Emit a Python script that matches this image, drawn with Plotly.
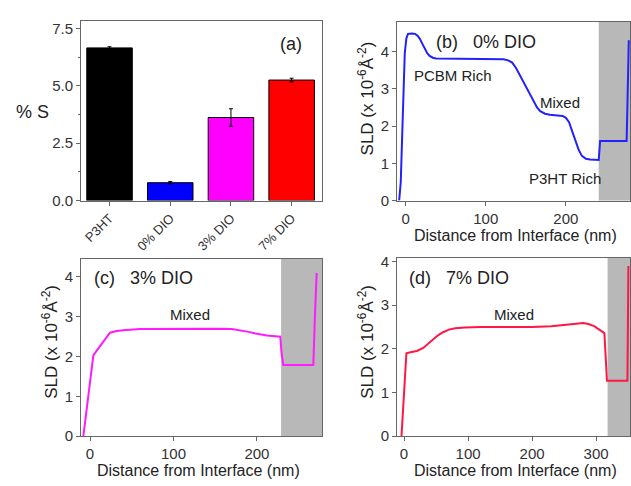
import plotly.graph_objects as go

W, H = 631, 486

# ---- data ----
categories = ["P3HT", "0% DIO", "3% DIO", "7% DIO"]
percent_s = [6.65, 0.78, 3.62, 5.25]
percent_s_err = [0.05, 0.05, 0.38, 0.08]
bar_colors = ["#000000", "#0000ff", "#ff00ff", "#ff0000"]

x_0dio = [-8, -6, -4, -2, -1, 1, 3, 8, 12, 15, 18, 21, 24, 27, 30, 34, 38, 60, 100, 122, 128,
          133, 138, 144, 150, 155, 160, 164, 168, 174, 180, 190, 196, 200, 204, 208, 212, 216,
          220, 225, 230, 236, 241, 242.7, 250, 265, 275.8, 277, 278.5]
y_0dio = [0, 0.5, 1.9, 3.3, 3.95, 4.35, 4.47, 4.48, 4.47, 4.42, 4.33, 4.2, 4.06, 3.95, 3.88, 3.83,
          3.81, 3.8, 3.8, 3.79, 3.76, 3.7, 3.55, 3.3, 3.07, 2.85, 2.64, 2.5, 2.4, 2.33, 2.3, 2.29,
          2.27, 2.22, 2.1, 1.85, 1.6, 1.36, 1.2, 1.12, 1.1, 1.09, 1.09, 1.6, 1.6, 1.6, 1.6, 2.8, 4.3]

x_3dio = [-8, -2, 4, 8, 12, 18, 24, 32, 40, 60, 100, 150, 170, 180, 190, 200, 212, 228, 229.5,
          231.6, 250, 267.6, 269.5, 271.6]
y_3dio = [0, 1.05, 2.03, 2.15, 2.27, 2.45, 2.6, 2.64, 2.66, 2.69, 2.7, 2.7, 2.69, 2.66, 2.62,
          2.57, 2.53, 2.5, 2.1, 1.79, 1.79, 1.79, 3.0, 4.1]

x_7dio = [-4, 3.7, 10, 20, 30, 38, 45, 53, 61, 70, 80, 95, 120, 200, 230, 255, 270, 280, 288,
          297, 313, 317, 330, 349, 350.5]
y_7dio = [0, 1.9, 1.92, 1.95, 2.02, 2.12, 2.22, 2.31, 2.38, 2.44, 2.47, 2.49, 2.5, 2.5, 2.52,
          2.55, 2.58, 2.59, 2.57, 2.52, 2.36, 1.27, 1.27, 1.27, 3.9]

substrate_start = [241, 229, 318]

line_colors = ["#2222ff", "#ff1aff", "#ff1744"]

FONT = "Liberation Sans, Arial, sans-serif"
AXC = "#666666"
TXT = "#222222"


def dx(px0, px1):
    return [px0 / W, px1 / W]


def dy(py_top, py_bot):
    return [1 - py_bot / H, 1 - py_top / H]


fig = go.Figure()

fig.add_trace(go.Bar(
    x=categories, y=percent_s, width=0.75,
    marker=dict(color=bar_colors, line=dict(color="#000000", width=1)),
    error_y=dict(type="data", array=percent_s_err, color="#000000", thickness=1, width=2),
    xaxis="x", yaxis="y", showlegend=False))

fig.add_trace(go.Scatter(x=x_0dio, y=y_0dio, mode="lines",
                         line=dict(color=line_colors[0], width=2),
                         xaxis="x2", yaxis="y2", showlegend=False))
fig.add_trace(go.Scatter(x=x_3dio, y=y_3dio, mode="lines",
                         line=dict(color=line_colors[1], width=2),
                         xaxis="x3", yaxis="y3", showlegend=False))
fig.add_trace(go.Scatter(x=x_7dio, y=y_7dio, mode="lines",
                         line=dict(color=line_colors[2], width=2),
                         xaxis="x4", yaxis="y4", showlegend=False))

common = dict(showline=True, mirror=True, linecolor=AXC, linewidth=1,
              ticks="outside", ticklen=4, tickcolor=AXC, showgrid=False, zeroline=False,
              tickfont=dict(family=FONT, size=15, color="#333333"))

fig.update_layout(
    width=W, height=H,
    margin=dict(l=0, r=0, t=0, b=0),
    paper_bgcolor="white", plot_bgcolor="white",
    font=dict(family=FONT, color=TXT),
    xaxis=dict(domain=dx(81, 322), anchor="y", range=[-0.47, 3.5],
               tickangle=-45, **{**common, "tickfont": dict(family=FONT, size=13, color="#333333")}),
    yaxis=dict(domain=dy(16, 201), anchor="x", range=[0, 7.84], tickvals=[0, 2.5, 5, 7.5],
               tickformat=".1f", minor=dict(ticks="outside", ticklen=2, tickcolor=AXC, dtick=1.25),
               **common),
    xaxis2=dict(domain=dx(397, 630), anchor="y2", range=[-10.7, 280], dtick=100, **common),
    yaxis2=dict(domain=dy(17, 201), anchor="x2", range=[0, 4.8], dtick=1, **common),
    xaxis3=dict(domain=dx(81, 322), anchor="y3", range=[-10.8, 278], dtick=100, **common),
    yaxis3=dict(domain=dy(261, 443), anchor="x3", range=[0, 4.45], dtick=1, **common),
    xaxis4=dict(domain=dx(397, 630), anchor="y4", range=[-11, 353], dtick=100, **common),
    yaxis4=dict(domain=dy(260, 443), anchor="x4", range=[0, 4.08], dtick=1, **common),
)

# substrate shaded regions
for i, (xr, yr, xmax) in enumerate([("x2", "y2", 280), ("x3", "y3", 278), ("x4", "y4", 353)]):
    fig.add_shape(type="rect", xref=xr, yref=yr + " domain", x0=substrate_start[i], x1=xmax,
                  y0=0, y1=1, fillcolor="#b8b8b8", line=dict(width=0), layer="below")


def ann(text, px, py, size=13, angle=0, xanchor="center"):
    fig.add_annotation(text=text, x=px / W, y=1 - py / H, xref="paper", yref="paper",
                       showarrow=False, textangle=angle, xanchor=xanchor, yanchor="middle",
                       font=dict(family=FONT, size=size, color=TXT))


ann("(a)", 291, 40, 18)
ann("% S", 32, 110, 18)

ann("(b)&nbsp;&nbsp;&nbsp;0% DIO", 434, 38, 18, xanchor="left")
ann("PCBM Rich", 453, 72, 15)
ann("Mixed", 560, 100, 15)
ann("P3HT Rich", 565, 178, 15)

ann("(c)&nbsp;&nbsp;&nbsp;3% DIO", 92, 281, 18, xanchor="left")
ann("Mixed", 190, 318, 15)

ann("(d)&nbsp;&nbsp;&nbsp;7% DIO", 407, 280, 18, xanchor="left")
ann("Mixed", 514, 318, 15)

sld = "SLD (x 10<sup>-6</sup>Å<sup>-2</sup>)"
ann(sld, 366, 96, 17, angle=-90)
ann(sld, 50, 346, 17, angle=-90)
ann(sld, 366, 346, 17, angle=-90)

dist = "Distance from Interface (nm)"
ann(dist, 515, 237, 16)
ann(dist, 198, 478, 16)
ann(dist, 515, 478, 16)

fig.write_html("out.html", config={"displayModeBar": False},
               post_script="document.body.style.margin='0';document.body.style.padding='0';"
                           "document.body.style.overflow='hidden';")
